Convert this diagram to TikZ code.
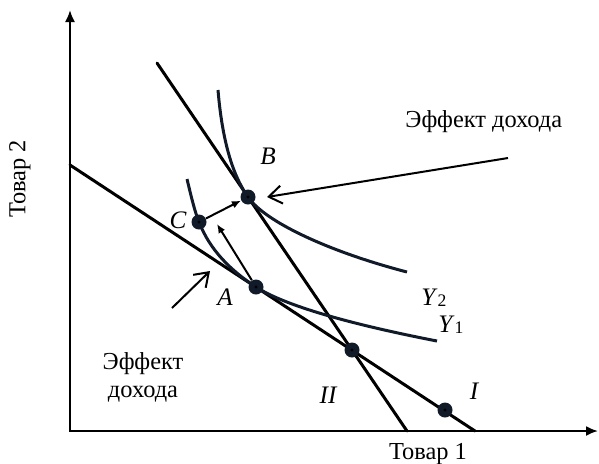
\documentclass[tikz,border=0pt]{standalone}
\usepackage{fontspec}
\setmainfont{Liberation Serif}
\usetikzlibrary{arrows.meta}
\definecolor{curvecol}{RGB}{16,26,40}
\newcommand{\subsc}[1]{\textup{\raisebox{-0.6pt}{\fontsize{8.8}{9}\selectfont #1}}}
\tikzset{
  txt/.style={font=\fontsize{12.2}{14}\selectfont, inner sep=0pt},
  lbl/.style={font=\fontsize{12.6}{14}\selectfont\itshape, inner sep=0pt},
  axisline/.style={line width=1pt, {Latex[length=6pt,width=5pt]}-{Latex[length=6pt,width=5pt]}},
  budget/.style={line width=1.5pt, line cap=round},
  indiff/.style={line width=1.5pt, draw=curvecol},
  dotpt/.style={circle, fill=curvecol, minimum size=7.5pt, inner sep=0pt,
    path picture={\fill[black] (path picture bounding box.center) circle (0.8pt);}},
  smallarr/.style={line width=1pt, -{Latex[length=4.5pt,width=3.8pt]}},
  openarr/.style={line width=1pt, -{Straight Barb[length=6.5pt,width=9pt]}},
}
\begin{document}
\begin{tikzpicture}[x=0.5pt,y=-0.5pt]
\useasboundingbox (0,0) rectangle (599,463);
% axes
\coordinate (O) at (70,431);
\coordinate (ytop) at (70,10);
\coordinate (xend) at (598,431);
\draw[axisline] (ytop) -- (O) -- (xend);
% budget lines
\coordinate (I1) at (70,165);
\coordinate (I2) at (475,431);
\coordinate (II1) at (157,63);
\coordinate (II2) at (407,431);
\draw[budget] (I1) -- (I2);
\draw[budget] (II1) -- (II2);
% point positions
\coordinate (pB) at (248,197);
\coordinate (pC) at (199,222);
\coordinate (pA) at (256,287);
\coordinate (pD) at (352,350);
\coordinate (pE) at (445,410);
% indifference curves
\coordinate (Y2s) at (218,90);
\coordinate (Y2e) at (407,272);
\coordinate (Y1s) at (187,179);
\coordinate (Y1e) at (437,341);
\draw[indiff] (Y2s) .. controls (223,150) and (236,180) .. (pB)
  .. controls (265,222) and (330,252) .. (Y2e);
\draw[indiff] (Y1s) .. controls (192,200) and (195,212) .. (pC)
  .. controls (210,250) and (230,270) .. (pA)
  .. controls (290,309) and (370,328) .. (Y1e);
% points
\node[dotpt] (B) at (pB) {};
\node[dotpt] (C) at (pC) {};
\node[dotpt] (A) at (pA) {};
\node[dotpt] (D) at (pD) {};
\node[dotpt] (E) at (pE) {};
% arrows
\coordinate (tailTop) at (508,158);
\coordinate (tipTop) at (267,197);
\draw[openarr] (tailTop) -- (tipTop);
\coordinate (tipAC) at (217,224);
\draw[smallarr] (A) -- (tipAC);
\draw[smallarr] (C) -- (B);
\coordinate (tailBL) at (172,308);
\coordinate (tipBL) at (210,271);
\draw[openarr] (tailBL) -- (tipBL);
% labels
\node[txt, anchor=base west] (efftop) at (405,127) {Эффект дохода};
\node[txt, align=center] (effbot) at (143,377) {Эффект\\дохода};
\node[txt, anchor=base] (good1) at (428,459) {Товар 1};
\node[txt, rotate=90] (good2) at (20,179) {Товар 2};
\node[lbl] (lB) at (268,156) {B};
\node[lbl] (lC) at (178,220) {C};
\node[lbl] (lA) at (225,297) {A};
\node[lbl] (lY2) at (434,298) {Y\subsc{2}};
\node[lbl] (lY1) at (451,325) {Y\subsc{1}};
\node[lbl] (lII) at (328,395) {II};
\node[lbl] (lI) at (474,391) {I};
\end{tikzpicture}
\end{document}
